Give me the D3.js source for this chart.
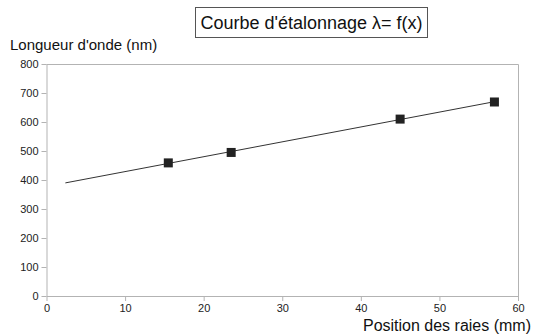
<!DOCTYPE html>
<html>
<head>
<meta charset="utf-8">
<script src="https://cdn.jsdelivr.net/npm/d3@7"></script>
<style>
  body { margin: 0; background: #fff; }
  text { font-family: "Liberation Sans", Arial, sans-serif; }
</style>
</head>
<body>
<div id="graph"></div>
<script>
// measured points
const positions = [15.5, 23.5, 45, 57];
const wavelengths = [459, 495, 610, 669];
// trend line ends
const trendX = [2.4, 57];
const trendY = [390, 670];
const xTicks = [0, 10, 20, 30, 40, 50, 60];
const yTicks = [0, 100, 200, 300, 400, 500, 600, 700, 800];

const W = 541, H = 336;
const margin = { top: 64, right: 23, bottom: 40, left: 46.5 },
  width = W - margin.left - margin.right,
  height = H - margin.top - margin.bottom;

const svg = d3.select("#graph").append("svg")
  .attr("width", W).attr("height", H);

const g = svg.append("g")
  .attr("transform", "translate(" + margin.left + "," + margin.top + ")");

const x = d3.scaleLinear().domain([0, 60]).range([0, width]);
const y = d3.scaleLinear().domain([0, 800]).range([height, 0]);

// frame (top + right)
g.append("path")
  .attr("d", `M0,0.5H${width + 0.5}V${height}`)
  .attr("fill", "none")
  .attr("stroke", "#b3b3b3");

// x axis
g.append("g")
  .attr("transform", "translate(0," + height + ")")
  .call(d3.axisBottom(x).tickValues(xTicks).tickSize(5).tickSizeOuter(0).tickPadding(3))
  .call(a => a.selectAll("line, path").attr("stroke", "#b3b3b3"))
  .call(a => a.selectAll("text").attr("font-size", 11).attr("fill", "#222")
    .attr("font-family", "Liberation Sans, Arial, sans-serif"));

// y axis
g.append("g")
  .call(d3.axisLeft(y).tickValues(yTicks).tickSize(5).tickSizeOuter(0).tickPadding(3))
  .call(a => a.selectAll("line, path").attr("stroke", "#b3b3b3"))
  .call(a => a.selectAll("text").attr("font-size", 11).attr("fill", "#222")
    .attr("font-family", "Liberation Sans, Arial, sans-serif"));

// trend line
g.append("path")
  .datum(trendX.map((d, i) => ({ x: d, y: trendY[i] })))
  .attr("fill", "none")
  .attr("stroke", "#333")
  .attr("stroke-width", 1)
  .attr("d", d3.line().x(d => x(d.x)).y(d => y(d.y)));

// markers
const s = 9;
g.selectAll(".pt")
  .data(positions)
  .enter()
  .append("rect")
  .attr("class", "pt")
  .attr("x", d => x(d) - s / 2)
  .attr("y", (d, i) => y(wavelengths[i]) - s / 2)
  .attr("width", s)
  .attr("height", s)
  .attr("fill", "#222");

// title box
svg.append("rect")
  .attr("x", 195.5).attr("y", 7.5)
  .attr("width", 232).attr("height", 30)
  .attr("fill", "white").attr("stroke", "#555");
svg.append("text")
  .attr("x", 311.5).attr("y", 29)
  .attr("text-anchor", "middle")
  .attr("font-size", 18)
  .attr("fill", "#111")
  .text("Courbe d'étalonnage λ= f(x)");

// axis titles
svg.append("text")
  .attr("x", 10).attr("y", 50)
  .attr("font-size", 15)
  .attr("fill", "#111")
  .text("Longueur d'onde (nm)");
svg.append("text")
  .attr("x", 531).attr("y", 331)
  .attr("text-anchor", "end")
  .attr("font-size", 16)
  .attr("fill", "#111")
  .text("Position des raies (mm)");
</script>
</body>
</html>
